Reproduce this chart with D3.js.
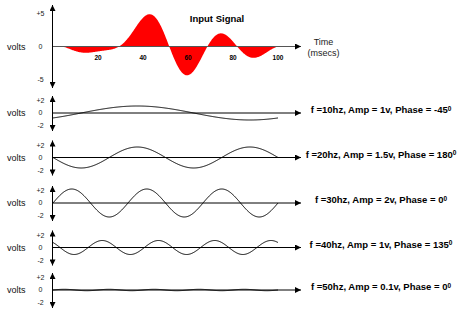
<!DOCTYPE html>
<html>
<head>
<meta charset="utf-8">
<script src="https://cdn.jsdelivr.net/npm/d3@7"></script>
<style>
  html, body { margin: 0; padding: 0; background: #fff; }
  svg { display: block; font-family: "Liberation Sans", Arial, sans-serif; }
</style>
</head>
<body>
<svg id="chart" width="463" height="314"></svg>
<script>
// component parameters
const freqs = [10, 20, 30, 40, 50];        // hz
const amps = [1, 1.5, 2, 1, 0.1];          // volts
const phases = [-45, 180, 0, 135, 0];      // degrees
const timeTicks = [20, 40, 60, 80, 100];   // msecs
const inputTicks = [5, 0, -5];
const compTicks = [2, 0, -2];

const svg = d3.select("#chart");

const x = d3.scaleLinear().domain([0, 100]).range([53, 278]);
const axisX0 = 52, axisX1 = 301;

// sample times across 0..100 ms
const times = d3.range(0, 100.001, 0.25);

const wave = (i, t) => amps[i] * Math.sin(2 * Math.PI * freqs[i] * t / 1000 + phases[i] * Math.PI / 180);
const inputSignal = times.map(t => ({ t, v: d3.sum(freqs, (_, i) => wave(i, t)) }));

// arrowhead markers
const defs = svg.append("defs");
defs.append("marker")
  .attr("id", "arrow")
  .attr("viewBox", "0 0 10 10")
  .attr("refX", 10).attr("refY", 5)
  .attr("markerWidth", 8).attr("markerHeight", 6)
  .attr("markerUnits", "userSpaceOnUse")
  .attr("orient", "auto-start-reverse")
  .append("path")
  .attr("d", "M0,0L10,5L0,10Z")
  .attr("fill", "#000");

function tickText(g, yScale, ticks, fmt) {
  g.selectAll("text.tick")
    .data(ticks)
    .enter()
    .append("text")
    .attr("class", "tick")
    .attr("x", 40.5)
    .attr("y", d => yScale(d) + (d > 0 ? 2 : d < 0 ? -1 : 0))
    .attr("dy", "0.35em")
    .attr("text-anchor", "middle")
    .style("font-size", "7px")
    .attr("fill", "#222")
    .text(fmt);
}

function axes(g, zero, y0, y1) {
  g.append("line")
    .attr("class", "xaxis")
    .attr("x1", axisX0).attr("x2", axisX1)
    .attr("y1", zero).attr("y2", zero)
    .attr("stroke", "#000").attr("stroke-width", 1)
    .attr("marker-end", "url(#arrow)");
  g.append("line")
    .attr("x1", 52.5).attr("x2", 52.5)
    .attr("y1", y0).attr("y2", y1)
    .attr("stroke", "#000").attr("stroke-width", 1)
    .attr("marker-start", "url(#arrow)")
    .attr("marker-end", "url(#arrow)");
  g.append("text")
    .attr("x", 7).attr("y", zero)
    .attr("dy", "0.35em")
    .style("font-size", "9px")
    .attr("fill", "#111")
    .text("volts");
}

// ---- input signal panel ----
const yIn = d3.scaleLinear().domain([-5, 5]).range([81, 12]);
const inputG = svg.append("g");

inputG.append("path")
  .datum(inputSignal)
  .attr("d", d3.area()
    .x(d => x(d.t))
    .y0(yIn(0))
    .y1(d => yIn(d.v)))
  .attr("fill", "#ff0000");

axes(inputG, yIn(0), 5, 88);
inputG.select("line.xaxis").attr("stroke", "#555");
tickText(inputG, yIn, inputTicks, d => d > 0 ? "+" + d : d);

inputG.selectAll("text.time")
  .data(timeTicks)
  .enter()
  .append("text")
  .attr("class", "time")
  .attr("x", d => x(d))
  .attr("y", yIn(0) + 13)
  .attr("text-anchor", "middle")
  .style("font-size", "6.5px")
  .style("font-weight", "bold")
  .attr("fill", "#000")
  .text(d => d);

inputG.append("text")
  .attr("x", 217).attr("y", 22)
  .attr("text-anchor", "middle")
  .style("font-size", "9.5px")
  .style("font-weight", "bold")
  .text("Input Signal");

inputG.append("text")
  .attr("x", 323.5).attr("y", 45)
  .attr("text-anchor", "middle")
  .style("font-size", "9px")
  .attr("fill", "#222")
  .text("Time");
inputG.append("text")
  .attr("x", 323.5).attr("y", 56)
  .attr("text-anchor", "middle")
  .style("font-size", "9px")
  .attr("fill", "#222")
  .text("(msecs)");

// ---- component panels ----
const zeros = [113, 157.5, 203, 247.5, 290];

freqs.forEach((f, i) => {
  const z = zeros[i];
  const y = d3.scaleLinear().domain([-2, 2]).range([z + 14, z - 14]);
  const g = svg.append("g");

  axes(g, z, z - 17, z + 18);
  tickText(g, y, compTicks, d => d > 0 ? "+" + d : d);

  g.append("path")
    .datum(times.map(t => ({ t, v: wave(i, t) })))
    .attr("d", d3.line().x(d => x(d.t)).y(d => y(d.v)))
    .attr("fill", "none")
    .attr("stroke", "#000")
    .attr("stroke-width", 1);

  const label = g.append("text")
    .attr("x", 381).attr("y", z - 3)
    .attr("dy", "0.35em")
    .attr("text-anchor", "middle")
    .style("font-size", "9.5px")
    .style("font-weight", "bold");
  label.append("tspan")
    .text(`f =${f}hz, Amp = ${amps[i]}v, Phase = ${phases[i]}`);
  label.append("tspan")
    .attr("dy", "-0.4em")
    .style("font-size", "6.5px")
    .text("0");
});
</script>
</body>
</html>
